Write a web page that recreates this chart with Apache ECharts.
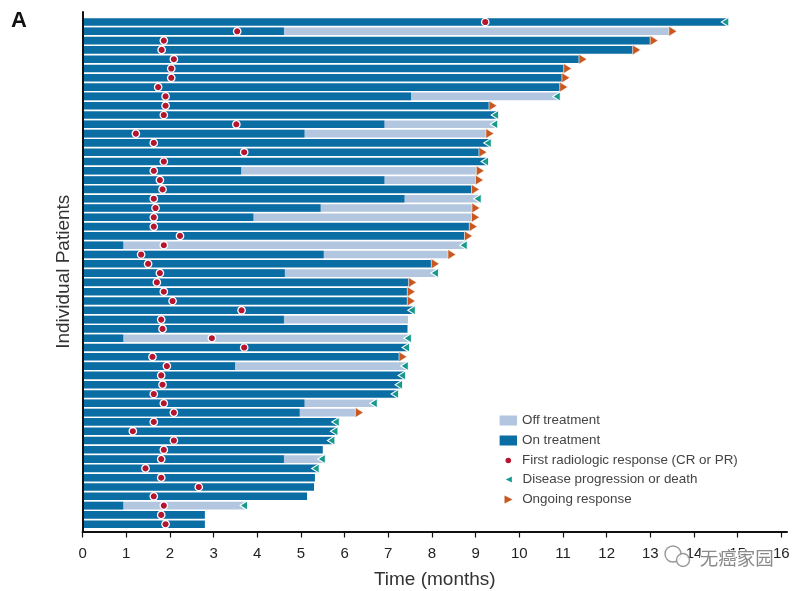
<!DOCTYPE html>
<html>
<head>
<meta charset="utf-8">
<script src="https://cdn.jsdelivr.net/npm/echarts@6/dist/echarts.min.js"></script>
<style>
  html, body { margin: 0; background: #fff; }
  #main { width: 800px; height: 591px; }
</style>
</head>
<body>
<div id="main"></div>
<script>
// months, top patient first
var onEnd = [14.78, 4.61, 13.0, 12.6, 11.37, 11.02, 10.98, 10.93, 7.52, 9.31, 9.51,
  6.91, 5.08, 9.34, 9.08, 9.28, 3.63, 6.91, 8.91, 7.37, 5.45, 3.91, 8.86, 8.75, 0.93,
  5.52, 7.99, 4.63, 7.47, 7.44, 7.44, 7.6, 4.61, 7.44, 0.93, 7.47, 7.25, 3.49, 7.38,
  7.31, 7.22, 5.08, 4.97, 5.86, 5.83, 5.76, 5.5, 4.61, 5.4, 5.32, 5.3, 5.14, 0.93, 2.8, 2.8];
var offEnd = [null, 13.43, null, null, null, null, null, null, 10.92, null, null,
  9.49, 9.24, null, null, null, 9.02, 9.0, null, 9.11, 8.92, 8.91, null, null, 8.79,
  8.37, null, 8.13, null, null, null, null, 7.45, null, 7.51, null, null, 7.44, null,
  null, null, 6.73, 6.25, null, null, null, null, 5.54, null, null, null, null, 3.76, null, null];
var firstResponse = [9.22, 3.54, 1.86, 1.81, 2.09, 2.03, 2.03, 1.73, 1.9, 1.9, 1.86,
  3.52, 1.22, 1.63, 3.7, 1.86, 1.63, 1.77, 1.83, 1.63, 1.67, 1.63, 1.63, 2.23, 1.86,
  1.34, 1.5, 1.77, 1.7, 1.86, 2.06, 3.64, 1.8, 1.83, 2.96, 3.7, 1.6, 1.93, 1.8,
  1.83, 1.63, 1.86, 2.09, 1.63, 1.15, 2.09, 1.86, 1.8, 1.44, 1.8, 2.66, 1.63, 1.86, 1.8, 1.9];
// D = disease progression or death, O = ongoing response, - = nothing
var endMark = ['D', 'O', 'O', 'O', 'O', 'O', 'O', 'O', 'D', 'O', 'D',
  'D', 'O', 'D', 'O', 'D', 'O', 'O', 'O', 'D', 'O', 'O', 'O', 'O', 'D',
  'O', 'O', 'D', 'O', 'O', 'O', 'D', '-', '-', 'D', 'D', 'O', 'D', 'D',
  'D', 'D', 'D', 'O', 'D', 'D', 'D', '-', 'D', 'D', '-', '-', '-', 'D', '-', '-'];
var tickValues = [0, 1, 2, 3, 4, 5, 6, 7, 8, 9, 10, 11, 12, 13, 14, 15, 16];
var patients = onEnd.map(function (v, i) { return 'P' + (i + 1); });

var NAME_OFF = 'Off treatment';
var NAME_ON = 'On treatment';
var NAME_RESP = 'First radiologic response (CR or PR)';
var NAME_PD = 'Disease progression or death';
var NAME_ONGOING = 'Ongoing response';

function rowEnd(i) {
  return offEnd[i] != null ? offEnd[i] : onEnd[i];
}
function endPoints(type) {
  var out = [];
  endMark.forEach(function (m, i) {
    if (m === type) out.push([rowEnd(i), patients[i]]);
  });
  return out;
}
function legendItem(name, left, top, width, height) {
  return {
    data: [{ name: name, icon: (name === NAME_OFF || name === NAME_ON) ? 'rect' : undefined }],
    left: left, top: top, padding: 0, itemWidth: width, itemHeight: height,
    selectedMode: false,
    itemStyle: { borderWidth: 0 },
    textStyle: { fontFamily: sansFont, fontSize: 13.4, color: '#444' }
  };
}

var chart = echarts.init(document.getElementById('main'));
var sansFont = '"Liberation Sans", Arial, sans-serif';
var axisMax = 16.13;

var option = {
  backgroundColor: '#fff',
  animation: false,
  title: {
    text: 'A', left: 6, top: 5,
    textStyle: { fontFamily: sansFont, fontSize: 22, fontWeight: 'bold', color: '#111' }
  },
  legend: [
    legendItem(NAME_OFF, 499.6, 414, 17.4, 10),
    legendItem(NAME_ON, 499.6, 434, 17.4, 10),
    legendItem(NAME_RESP, 505.5, 454, 17.4, 5.6),
    legendItem(NAME_PD, 505.8, 473, 17.4, 6),
    legendItem(NAME_ONGOING, 504.5, 493, 17.4, 8)
  ],
  grid: [
    { left: 82.6, top: 12, width: 704.4, height: 519.5, outerBoundsMode: 'none' },   // axes frame
    { left: 82.6, top: 17.35, width: 704.4, height: 511.5, outerBoundsMode: 'none' } // bars
  ],
  xAxis: [
    {
      gridIndex: 0, type: 'value', min: 0, max: axisMax, z: 5,
      name: 'Time (months)', nameLocation: 'center', nameGap: 39, nameMoveOverlap: false,
      nameTextStyle: { fontFamily: sansFont, fontSize: 19, color: '#333' },
      axisLine: { lineStyle: { color: '#111', width: 2 } },
      axisTick: { show: true, length: 6, lineStyle: { color: '#111', width: 1.2 }, customValues: tickValues },
      axisLabel: { customValues: tickValues, margin: 15, fontFamily: sansFont, fontSize: 15, color: '#222' },
      splitLine: { show: false }
    },
    { gridIndex: 1, type: 'value', min: 0, max: axisMax, show: false, splitLine: { show: false } }
  ],
  yAxis: [
    {
      gridIndex: 0, type: 'value', min: 0, max: 1, z: 5,
      name: 'Individual Patients', nameLocation: 'center', nameRotate: 90, nameGap: 9, nameMoveOverlap: false,
      nameTextStyle: { fontFamily: sansFont, fontSize: 19, color: '#333' },
      axisLine: { show: true, onZero: false, lineStyle: { color: '#111', width: 2 } },
      axisTick: { show: false }, axisLabel: { show: false }, splitLine: { show: false }
    },
    { gridIndex: 1, type: 'category', inverse: true, data: patients, show: false }
  ],
  series: [
    {
      name: NAME_OFF, type: 'bar', xAxisIndex: 1, yAxisIndex: 1,
      barWidth: 7.6, barGap: '-100%', data: offEnd,
      itemStyle: { color: '#b3c6df' }
    },
    {
      name: NAME_ON, type: 'bar', xAxisIndex: 1, yAxisIndex: 1,
      barWidth: 7.6, barGap: '-100%', data: onEnd,
      itemStyle: { color: '#0a6da4' }
    },
    {
      name: NAME_RESP, type: 'scatter', xAxisIndex: 1, yAxisIndex: 1,
      symbol: 'circle', symbolSize: 7.4, clip: false,
      data: firstResponse.map(function (v, i) { return [v, patients[i]]; }),
      itemStyle: { color: '#b5152f', borderColor: '#fff', borderWidth: 1.3, opacity: 1 }
    },
    {
      name: NAME_PD, type: 'scatter', xAxisIndex: 1, yAxisIndex: 1,
      symbol: 'path://M10 0L0 5L10 10Z', symbolSize: [7.5, 9.5], symbolOffset: [-3, 0], clip: false,
      data: endPoints('D'),
      itemStyle: { color: '#159a8c', borderColor: '#fff', borderWidth: 1, opacity: 1 }
    },
    {
      name: NAME_ONGOING, type: 'scatter', xAxisIndex: 1, yAxisIndex: 1,
      symbol: 'path://M0 0L10 5L0 10Z', symbolSize: [8, 10], symbolOffset: [3.8, 0], clip: false,
      data: endPoints('O'),
      itemStyle: { color: '#c8581f', borderColor: '#fff', borderWidth: 0.6, opacity: 1 }
    }
  ],
  graphic: [
    // watermark sitting on top of the axis labels
    { type: 'circle', z: 50, shape: { cx: 673, cy: 554, r: 8 },
      style: { fill: 'rgba(255,255,255,0.85)', stroke: '#999', lineWidth: 1.4 } },
    { type: 'circle', z: 50, shape: { cx: 683, cy: 560, r: 6.5 },
      style: { fill: 'rgba(255,255,255,0.85)', stroke: '#999', lineWidth: 1.4 } },
    { type: 'text', z: 50, left: 699, top: 548,
      style: { text: '无癌家园', fontFamily: '"Noto Sans CJK SC"', fontSize: 18.5, fill: '#8a8a8a',
        stroke: '#fff', lineWidth: 1.5 } }
  ]
};

chart.setOption(option);
</script>
</body>
</html>
